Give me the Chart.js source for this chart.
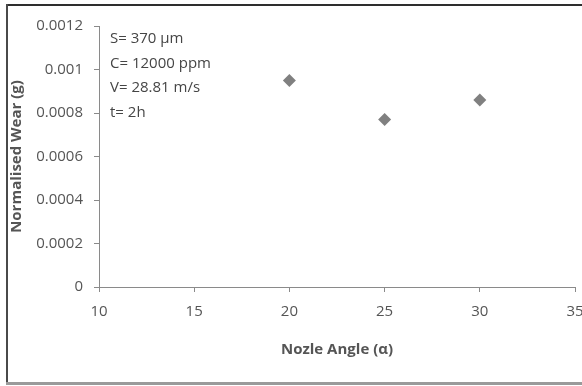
<!DOCTYPE html>
<html>
<head>
<meta charset="utf-8">
<script src="https://cdn.jsdelivr.net/npm/chart.js@4/dist/chart.umd.min.js"></script>
<style>
  html, body { margin: 0; padding: 0; background: #fff; overflow: hidden; }
  #wrap { position: relative; width: 582px; height: 386px; overflow: hidden; }
  .edge { position: absolute; }
  #top { left: 6px; top: 4px; width: 576px; height: 2px; background: #2e2e2e; }
  #left { left: 6px; top: 4px; width: 2px; height: 378px; background: #4a4a4a; }
  #bottom { left: 6px; top: 382px; width: 576px; height: 3px; background: #9a9a9a; }
  #chart { position: absolute; left: 8px; top: 6px; }
</style>
</head>
<body>
<div id="wrap">
  <canvas id="chart" width="600" height="376"></canvas>
  <div class="edge" id="top"></div>
  <div class="edge" id="left"></div>
  <div class="edge" id="bottom"></div>
</div>
<script>
// data
const angles = [20, 25, 30];
const wear = [0.00095, 0.00077, 0.00086];
const yTickLabels = ['0', '0.0002', '0.0004', '0.0006', '0.0008', '0.001', '0.0012'];
const notes = ['S= 370 \u00b5m', 'C= 12000 ppm', 'V= 28.81 m/s', 't= 2h'];

const axisGray = '#8a8a8a';
const textGray = '#555555';

const notesPlugin = {
  id: 'notes',
  afterDraw(chart) {
    const ctx = chart.ctx;
    const area = chart.chartArea;
    ctx.save();
    ctx.font = '15px "Open Sans"';
    ctx.fillStyle = '#454545';
    ctx.textBaseline = 'middle';
    notes.forEach((t, i) => {
      ctx.fillText(t, area.left + 11, area.top + 13 + i * 24.6);
    });
    ctx.restore();
  }
};

const ctx = document.getElementById('chart').getContext('2d');

const chart = new Chart(ctx, {
  type: 'scatter',
  data: {
    datasets: [{
      data: angles.map((a, i) => ({ x: a, y: wear[i] })),
      pointStyle: 'rectRot',
      pointRadius: 6.5,
      pointBackgroundColor: '#808080',
      pointBorderWidth: 0,
    }],
  },
  options: {
    responsive: false,
    animation: false,
    layout: { padding: { top: 19, right: 33, bottom: 0, left: 0 } },
    plugins: {
      legend: { display: false },
      tooltip: { enabled: false },
    },
    scales: {
      x: {
        type: 'linear',
        min: 10,
        max: 35,
        afterFit(scale) { scale.height = 95; },
        ticks: {
          stepSize: 5,
          color: textGray,
          font: { family: 'Open Sans', size: 15 },
          padding: 11,
        },
        grid: { drawOnChartArea: false, tickLength: 5, color: axisGray },
        border: { color: axisGray },
        title: {
          display: true,
          text: 'Nozle Angle (\u03b1)',
          color: textGray,
          font: { family: 'Open Sans', size: 15, weight: 'bold' },
          padding: { top: 0, bottom: 23 },
        },
      },
      y: {
        min: 0,
        max: 0.0012,
        afterFit(scale) { scale.width = 91; },
        ticks: {
          stepSize: 0.0002,
          color: textGray,
          font: { family: 'Open Sans', size: 15 },
          padding: 11,
          callback: (v, i) => yTickLabels[i],
        },
        grid: { drawOnChartArea: false, tickLength: 5, color: axisGray },
        border: { color: axisGray },
        title: {
          display: true,
          text: 'Normalised Wear (g)',
          color: textGray,
          font: { family: 'Open Sans', size: 15, weight: 'bold' },
          padding: { top: 0, bottom: 0 },
        },
      },
    },
  },
  plugins: [notesPlugin],
});
</script>
</body>
</html>
